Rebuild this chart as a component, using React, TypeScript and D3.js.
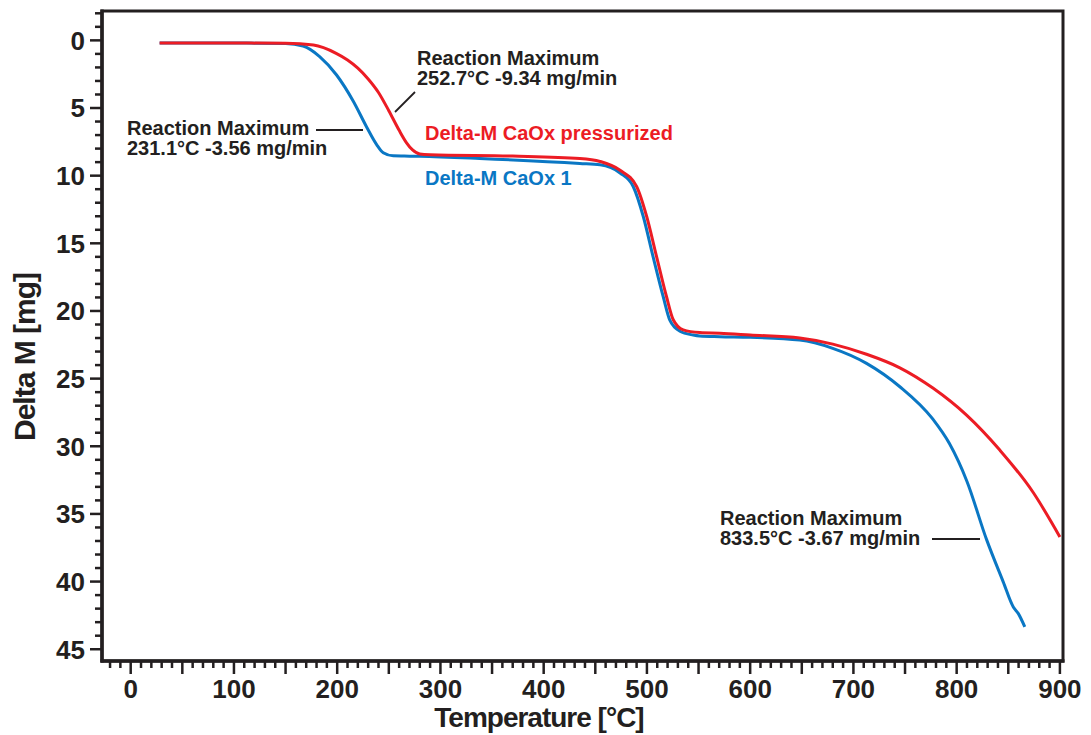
import { useEffect, useRef } from "react";
import * as d3 from "d3";

// Delta-M CaOx 1 (blue)
const tempCaOx1 = [28, 100, 150, 167, 183, 199.4, 215.6, 228.5, 238.2, 244.6, 254.3, 265, 280, 338, 435, 454.6, 474, 486.7, 496.4, 506, 515.8, 522.3, 532, 544.8, 551, 570.7, 600, 648, 680, 712.7, 745, 777, 793, 810, 829, 845, 855, 859.6, 866];
const massCaOx1 = [0.2, 0.2, 0.23, 0.42, 1.2, 2.56, 4.5, 6.4, 7.7, 8.3, 8.53, 8.55, 8.57, 8.73, 9.1, 9.2, 9.8, 10.8, 13.0, 16.0, 18.95, 20.7, 21.5, 21.78, 21.85, 21.9, 21.95, 22.15, 22.76, 23.87, 25.6, 28.0, 29.8, 32.6, 36.9, 40.0, 41.9, 42.35, 43.35];

// Delta-M CaOx pressurized (red)
const tempPress = [28, 100, 150, 177, 199, 210, 220, 230, 240, 250, 260, 267, 273, 280, 290, 370, 435, 454.6, 474, 490, 499.7, 509.4, 519, 525.5, 535.2, 551.3, 570.7, 600, 648, 680, 712.7, 745, 777, 809.6, 842, 874, 900];
const massPress = [0.2, 0.2, 0.22, 0.35, 0.96, 1.45, 2.05, 2.85, 3.85, 5.2, 6.65, 7.55, 8.1, 8.4, 8.45, 8.55, 8.73, 8.95, 9.6, 10.8, 13.0, 16.0, 18.95, 20.65, 21.4, 21.6, 21.65, 21.78, 22.0, 22.45, 23.2, 24.2, 25.7, 27.7, 30.3, 33.4, 36.7];

const xTickLabels = [0, 100, 200, 300, 400, 500, 600, 700, 800, 900];
const yTickLabels = [0, 5, 10, 15, 20, 25, 30, 35, 40, 45];

const annotations = [
  { lines: ["Reaction Maximum", "231.1°C -3.56 mg/min"], x: 127, y: 135, leader: [316, 130, 363, 130] },
  { lines: ["Reaction Maximum", "252.7°C -9.34 mg/min"], x: 417, y: 65, leader: [415, 92, 395, 112] },
  { lines: ["Reaction Maximum", "833.5°C -3.67 mg/min"], x: 720, y: 525, leader: [932, 539, 980, 539] },
];

const INK = "#231f20";
const RED = "#ec1c24";
const BLUE = "#0a77c4";
const FONT = "'Liberation Sans', Arial, Helvetica, sans-serif";

export default function App() {
  const ref = useRef<SVGSVGElement | null>(null);
  const width = 1091;
  const height = 735;

  useEffect(() => {
    if (!ref.current) return;
    const svg = d3.select(ref.current);
    svg.selectAll("*").remove();

    const left = 102, right = 1063, top = 11, bottom = 661;

    const x = d3.scaleLinear().domain([-27.8, 903]).range([left, right]);
    const y = d3.scaleLinear().domain([-2.17, 45.87]).range([top, bottom]);

    // frame
    svg.append("rect")
      .attr("x", left).attr("y", top)
      .attr("width", right - left).attr("height", bottom - top)
      .attr("fill", "none").attr("stroke", INK).attr("stroke-width", 3);

    // y ticks
    const yTicks = d3.range(-2, 46, 1);
    svg.append("g").selectAll("line")
      .data(yTicks)
      .join("line")
      .attr("x1", (d) => left - (d % 5 === 0 ? 12 : 7))
      .attr("x2", left)
      .attr("y1", (d) => y(d)).attr("y2", (d) => y(d))
      .attr("stroke", INK).attr("stroke-width", 2.5);

    svg.append("g").selectAll("text")
      .data(yTickLabels)
      .join("text")
      .attr("x", 85).attr("y", (d) => y(d)).attr("dy", "0.36em")
      .attr("text-anchor", "end")
      .attr("font-family", FONT).attr("font-weight", "bold").attr("font-size", 26)
      .attr("fill", INK)
      .text((d) => d);

    // x ticks
    const xTicks = d3.range(-20, 901, 10);
    svg.append("g").selectAll("line")
      .data(xTicks)
      .join("line")
      .attr("x1", (d) => x(d)).attr("x2", (d) => x(d))
      .attr("y1", bottom)
      .attr("y2", (d) => bottom + (d % 50 === 0 ? 13 : 7))
      .attr("stroke", INK).attr("stroke-width", 2.5);

    svg.append("g").selectAll("text")
      .data(xTickLabels)
      .join("text")
      .attr("x", (d) => x(d)).attr("y", 698)
      .attr("text-anchor", "middle")
      .attr("font-family", FONT).attr("font-weight", "bold").attr("font-size", 26)
      .attr("fill", INK)
      .text((d) => d);

    // heavier axis lines
    svg.append("line")
      .attr("x1", left).attr("x2", left).attr("y1", top - 1.5).attr("y2", bottom + 1.5)
      .attr("stroke", INK).attr("stroke-width", 3.5);
    svg.append("line")
      .attr("x1", left - 1.5).attr("x2", right + 1.5).attr("y1", bottom).attr("y2", bottom)
      .attr("stroke", INK).attr("stroke-width", 3.5);

    // axis titles
    svg.append("text")
      .attr("x", 539).attr("y", 727)
      .attr("text-anchor", "middle")
      .attr("font-family", FONT).attr("font-weight", "bold").attr("font-size", 28)
      .attr("letter-spacing", -1)
      .attr("fill", INK)
      .text("Temperature [°C]");

    svg.append("text")
      .attr("transform", "translate(35,357) rotate(-90)")
      .attr("text-anchor", "middle")
      .attr("font-family", FONT).attr("font-weight", "bold").attr("font-size", 30)
      .attr("letter-spacing", -1)
      .attr("fill", INK)
      .text("Delta M [mg]");

    // curves
    const line = d3.line<[number, number]>()
      .x((d) => x(d[0]))
      .y((d) => y(d[1]))
      .curve(d3.curveMonotoneX);

    const blue = tempCaOx1.map((t, i) => [t, massCaOx1[i]] as [number, number]);
    const red = tempPress.map((t, i) => [t, massPress[i]] as [number, number]);

    svg.append("path")
      .attr("d", line(blue))
      .attr("fill", "none").attr("stroke", BLUE).attr("stroke-width", 3);
    svg.append("path")
      .attr("d", line(red))
      .attr("fill", "none").attr("stroke", RED).attr("stroke-width", 3);

    // series labels
    svg.append("text")
      .attr("x", 425).attr("y", 140)
      .attr("font-family", FONT).attr("font-weight", "bold").attr("font-size", 20)
      .attr("fill", RED)
      .text("Delta-M CaOx pressurized");
    svg.append("text")
      .attr("x", 425).attr("y", 185)
      .attr("font-family", FONT).attr("font-weight", "bold").attr("font-size", 20)
      .attr("fill", BLUE)
      .text("Delta-M CaOx 1");

    // annotations
    annotations.forEach((a) => {
      const t = svg.append("text")
        .attr("font-family", FONT).attr("font-weight", "bold").attr("font-size", 20)
        .attr("fill", INK);
      a.lines.forEach((l, i) => {
        t.append("tspan").attr("x", a.x).attr("y", a.y + i * 20).text(l);
      });
      svg.append("line")
        .attr("x1", a.leader[0]).attr("y1", a.leader[1])
        .attr("x2", a.leader[2]).attr("y2", a.leader[3])
        .attr("stroke", INK).attr("stroke-width", 1.8);
    });
  }, []);

  return (
    <svg
      ref={ref}
      width={width}
      height={height}
      style={{ position: "absolute", left: 0, top: 0, background: "#fff" }}
    />
  );
}
